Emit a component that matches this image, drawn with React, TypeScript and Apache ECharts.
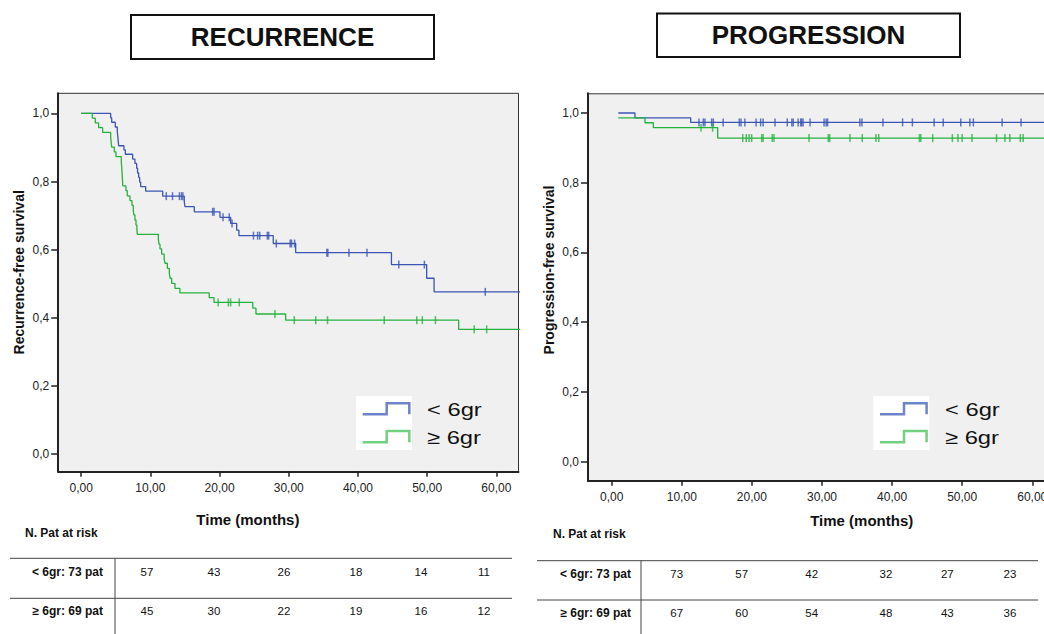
import React, { useEffect, useRef } from "react";
import * as echarts from "echarts";

// ---------- data ----------
const xTicks = [0, 10, 20, 30, 40, 50, 60];
const yTicks = [0, 0.2, 0.4, 0.6, 0.8, 1.0];

const panelTitles = ["RECURRENCE", "PROGRESSION"];
const yAxisNames = ["Recurrence-free survival", "Progression-free survival"];
const xAxisName = "Time (months)";
const groupNames = ["< 6gr", "≥ 6gr"];
const riskTitle = "N. Pat at risk";
const riskRowLabels = ["< 6gr: 73 pat", "≥ 6gr: 69 pat"];

// Recurrence (left panel): [time, survival] steps
const recBlue: [number, number][] = [
  [0, 1.0], [4.26, 0.987], [4.41, 0.974], [4.93, 0.96], [5.22, 0.946], [5.3, 0.932],
  [5.36, 0.918], [5.42, 0.905], [6.18, 0.893], [6.38, 0.88], [7.44, 0.866], [7.77, 0.853],
  [8.02, 0.839], [8.15, 0.825], [8.31, 0.812], [8.45, 0.798], [8.6, 0.785], [9.32, 0.772],
  [11.78, 0.757], [14.9, 0.741], [15.0, 0.726], [16.35, 0.711], [20.06, 0.695], [21.6, 0.677],
  [22.47, 0.657], [22.8, 0.641], [27.76, 0.618], [31.0, 0.591], [44.84, 0.556], [49.93, 0.516],
  [51.0, 0.476], [66, 0.476],
];
const recGreen: [number, number][] = [
  [0, 1.0], [1.61, 0.986], [2.04, 0.972], [2.52, 0.958], [3.1, 0.944], [4.26, 0.93],
  [4.33, 0.916], [4.41, 0.901], [4.79, 0.887], [5.03, 0.873], [5.8, 0.858], [5.85, 0.844],
  [5.9, 0.829], [5.94, 0.815], [5.98, 0.8], [6.02, 0.787], [6.47, 0.773], [6.66, 0.758],
  [7.05, 0.744], [7.34, 0.73], [7.53, 0.716], [7.6, 0.702], [7.77, 0.687], [7.92, 0.672],
  [8.05, 0.658], [8.11, 0.645], [11.15, 0.63], [11.25, 0.616], [11.39, 0.602], [11.63, 0.587],
  [12.0, 0.572], [12.1, 0.56], [12.45, 0.545], [12.74, 0.53], [12.84, 0.516], [13.08, 0.501],
  [13.55, 0.486], [14.27, 0.473], [18.5, 0.459], [19.2, 0.445], [24.8, 0.428], [25.26, 0.411],
  [29.55, 0.393], [54.55, 0.366], [66, 0.366],
];
const recBlueCensor = [
  12.3, 13.2, 14.2, 14.5, 14.7, 19.0, 19.2, 20.5, 21.4, 21.8, 24.9, 25.5, 25.8, 26.9, 27.1,
  28.2, 30.2, 30.4, 30.85, 35.5, 35.65, 38.7, 41.3, 45.9, 49.6, 58.4,
];
const recGreenCensor = [
  19.8, 21.27, 21.6, 22.85, 28.0, 30.8, 33.9, 35.6, 43.8, 48.5, 49.3, 51.2, 56.8, 58.6,
];

// Progression (right panel)
const progBlue: [number, number][] = [
  [0.94, 1.0], [3.32, 0.986], [11.27, 0.973], [66, 0.973],
];
const progGreen: [number, number][] = [
  [0.94, 0.986], [4.75, 0.972], [5.94, 0.958], [15.12, 0.928], [66, 0.928],
];
const progBlueCensor = [
  12.45, 13.07, 13.3, 14.26, 14.5, 15.9, 18.2, 18.45, 19.0, 20.6, 21.25, 21.6, 23.3, 25.05,
  25.7, 25.9, 26.6, 26.96, 27.1, 27.3, 28.3, 30.3, 30.6, 30.8, 35.4, 35.7, 38.7, 41.5, 42.9,
  46.0, 47.3, 49.8, 51.1, 51.6, 55.7, 58.4,
];
const progGreenCensor = [
  12.74, 14.4, 18.7, 19.2, 19.6, 19.97, 21.4, 21.6, 22.9, 23.15, 28.15, 30.9, 31.1, 34.0,
  35.75, 37.7, 38.1, 43.9, 44.1, 45.8, 48.6, 49.4, 50.0, 51.4, 54.9, 56.1, 56.8, 58.3, 58.7,
];

// numbers at risk
const recRiskBlue = [57, 43, 26, 18, 14, 11];
const recRiskGreen = [45, 30, 22, 19, 16, 12];
const progRiskBlue = [73, 57, 42, 32, 27, 23];
const progRiskGreen = [67, 60, 54, 48, 43, 36];

// ---------- styling / layout ----------
const BLUE = "#3a55b4";
const GREEN = "#24b23d";
const BLUE_ICON = "#6d84cb";
const GREEN_ICON = "#72d07f";
const FONT = "'Liberation Sans', Arial, Helvetica, sans-serif";
const W = 1044;
const H = 634;

function levelAt(steps: [number, number][], t: number): number {
  let v = steps[0][1];
  for (const [st, sv] of steps) {
    if (st <= t) v = sv;
    else break;
  }
  return v;
}

const fmtX = (v: number) => v.toFixed(2).replace(".", ",");
const fmtY = (v: number) => v.toFixed(1).replace(".", ",");

function makeXAxis(gridIndex: number, min: number, max: number) {
  return {
    type: "value",
    gridIndex,
    min,
    max,
    axisLine: { show: true, onZero: false, lineStyle: { color: "#222", width: 2 } },
    axisTick: { show: true, length: 5, customValues: xTicks, lineStyle: { color: "#222", width: 1.5 } },
    axisLabel: {
      customValues: xTicks,
      formatter: fmtX,
      fontSize: 12,
      color: "#222",
      margin: 10,
      fontFamily: FONT,
      hideOverlap: false,
    },
    splitLine: { show: false },
  };
}

function makeYAxis(gridIndex: number, min: number, max: number) {
  return {
    type: "value",
    gridIndex,
    min,
    max,
    axisLine: { show: true, onZero: false, lineStyle: { color: "#222", width: 2 } },
    axisTick: { show: true, length: 7, customValues: yTicks, lineStyle: { color: "#222", width: 1.5 } },
    axisLabel: {
      customValues: yTicks,
      formatter: fmtY,
      fontSize: 12,
      color: "#222",
      margin: 9,
      fontFamily: FONT,
    },
    splitLine: { show: false },
  };
}

function lineSeries(data: [number, number][], color: string, idx: number) {
  return {
    type: "line",
    step: "end",
    xAxisIndex: idx,
    yAxisIndex: idx,
    data,
    symbol: "none",
    clip: true,
    lineStyle: { color, width: 1.3 },
    z: 3,
  };
}

function censorSeries(times: number[], steps: [number, number][], color: string, idx: number) {
  return {
    type: "scatter",
    xAxisIndex: idx,
    yAxisIndex: idx,
    data: times.map((t) => [t, levelAt(steps, t)]),
    symbol: "rect",
    symbolSize: [1.5, 8],
    itemStyle: { color },
    z: 4,
  };
}

function text(x: number, y: number, str: string, font: string, align = "left", extra: any = {}) {
  return {
    type: "text",
    x,
    y,
    ...extra,
    style: {
      text: str,
      x: 0,
      y: 0,
      font,
      fill: "#111",
      textAlign: align,
      textVerticalAlign: "middle",
    },
    z: 10,
  };
}

function hline(x1: number, x2: number, y: number, color = "#444", w = 1) {
  return {
    type: "line",
    shape: { x1, y1: y, x2, y2: y },
    style: { stroke: color, lineWidth: w },
    z: 10,
  };
}
function vline(x: number, y1: number, y2: number) {
  return {
    type: "line",
    shape: { x1: x, y1, x2: x, y2 },
    style: { stroke: "#444", lineWidth: 1 },
    z: 10,
  };
}

function legend(bx: number, tx: number) {
  const els: any[] = [
    { type: "rect", shape: { x: bx, y: 396, width: 56, height: 54 }, style: { fill: "#fff" }, z: 9 },
    {
      type: "polyline",
      shape: { points: [[bx + 6.7, 414.3], [bx + 30.7, 414.3], [bx + 30.7, 403.3], [bx + 53.3, 403.3], [bx + 53.3, 414.3]] },
      style: { stroke: BLUE_ICON, lineWidth: 2.5, fill: "none" },
      z: 10,
    },
    {
      type: "polyline",
      shape: { points: [[bx + 6.7, 442.3], [bx + 30.7, 442.3], [bx + 30.7, 431], [bx + 53.3, 431], [bx + 53.3, 442.3]] },
      style: { stroke: GREEN_ICON, lineWidth: 2.5, fill: "none" },
      z: 10,
    },
    text(tx, 410, groupNames[0], `19px ${FONT}`, "left", { scaleX: 1.25 }),
    text(tx, 438, groupNames[1], `19px ${FONT}`, "left", { scaleX: 1.25 }),
  ];
  return els;
}

function riskTable(
  titleX: number, titleY: number, lx1: number, lx2: number, ly1: number, ly2: number,
  vx: number, labelX: number, rowY: number[], colX: number[], rows: number[][]
) {
  const els: any[] = [
    text(titleX, titleY, riskTitle, `bold 12px ${FONT}`, "left"),
    hline(lx1, lx2, ly1),
    hline(lx1, lx2, ly2),
    vline(vx, ly1, H),
  ];
  rows.forEach((row, r) => {
    els.push(text(labelX, rowY[r], riskRowLabels[r], `bold 12px ${FONT}`, "right"));
    row.forEach((v, c) => {
      els.push(text(colX[c], rowY[r], String(v), `11.5px ${FONT}`, "center"));
    });
  });
  return els;
}

function titleBox(x: number, y: number, w: number, h: number, str: string) {
  return [
    { type: "rect", shape: { x, y, width: w, height: h }, style: { fill: "#fff", stroke: "#111", lineWidth: 2 }, z: 10 },
    text(x + w / 2, y + h / 2, str, `bold 26px ${FONT}`, "center"),
  ];
}

export default function App() {
  const ref = useRef<HTMLDivElement>(null);

  useEffect(() => {
    if (!ref.current) return;
    const chart = echarts.init(ref.current, undefined, { renderer: "svg", width: W, height: H });

    const graphic: any[] = [
      ...titleBox(131, 15, 303, 44, panelTitles[0]),
      ...titleBox(657, 13.5, 303, 43.5, panelTitles[1]),
      text(18.6, 272.3, yAxisNames[0], `bold 14px ${FONT}`, "center", { rotation: Math.PI / 2 }),
      text(549, 270, yAxisNames[1], `bold 14px ${FONT}`, "center", { rotation: Math.PI / 2 }),
      text(247.9, 519, xAxisName, `bold 15px ${FONT}`, "center"),
      text(861.7, 520, xAxisName, `bold 15px ${FONT}`, "center"),
      // top border of the right panel (its right edge lies beyond the page)
      hline(588, W, 93.8, "#333", 1),
      ...legend(356, 427),
      ...legend(873.3, 945),
      ...riskTable(25, 533.3, 10, 512, 558.3, 598.3, 115, 103, [571.7, 610.7],
        [147, 214, 284, 356, 421, 484], [recRiskBlue, recRiskGreen]),
      ...riskTable(553, 534, 537, 1038, 560.7, 600, 641, 631, [574.3, 612.7],
        [676.7, 741.7, 811.7, 886, 947.3, 1010], [progRiskBlue, progRiskGreen]),
    ];

    const option: any = {
      animation: false,
      backgroundColor: "#fff",
      grid: [
        {
          left: 58.2, top: 93.3, width: 460.3, height: 378.4, show: true,
          backgroundColor: "#f0f0f0", borderColor: "#333", borderWidth: 1,
          containLabel: false, outerBoundsMode: "none",
        },
        {
          left: 588, top: 93.3, width: 472.3, height: 387.4, show: true,
          backgroundColor: "#f0f0f0", borderWidth: 0,
          containLabel: false, outerBoundsMode: "none",
        },
      ],
      xAxis: [makeXAxis(0, -3.32, 63.2), makeXAxis(1, -3.38, 64)],
      yAxis: [makeYAxis(0, -0.052, 1.059), makeYAxis(1, -0.0545, 1.0565)],
      series: [
        lineSeries(recBlue, BLUE, 0),
        lineSeries(recGreen, GREEN, 0),
        censorSeries(recBlueCensor, recBlue, BLUE, 0),
        censorSeries(recGreenCensor, recGreen, GREEN, 0),
        lineSeries(progBlue, BLUE, 1),
        lineSeries(progGreen, GREEN, 1),
        censorSeries(progBlueCensor, progBlue, BLUE, 1),
        censorSeries(progGreenCensor, progGreen, GREEN, 1),
      ],
      graphic,
    };
    chart.setOption(option);
    return () => chart.dispose();
  }, []);

  return (
    <div
      ref={ref}
      style={{ position: "fixed", left: 0, top: 0, width: W, height: H, background: "#fff", overflow: "hidden" }}
    />
  );
}
